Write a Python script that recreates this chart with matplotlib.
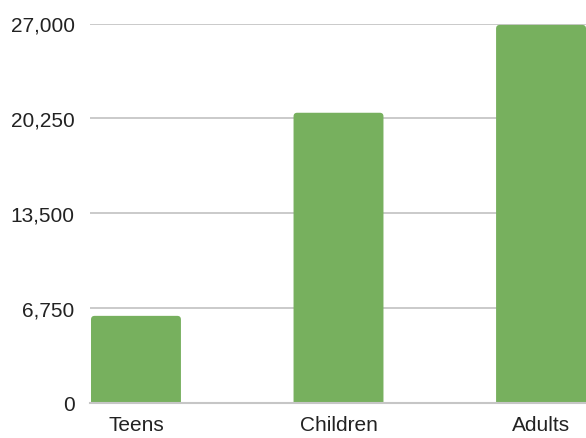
import matplotlib
matplotlib.use("Agg")
import matplotlib.pyplot as plt
from matplotlib.patches import FancyBboxPatch
from matplotlib.ticker import FuncFormatter

# data
categories = ["Teens", "Children", "Adults"]
values = [6200, 20650, 26900]
y_ticks = [0, 6750, 13500, 20250, 27000]

plt.rcParams['font.family'] = ['Liberation Sans', 'DejaVu Sans']

fig = plt.figure(figsize=(5.86, 4.39), dpi=100)
ax = fig.add_axes([90 / 586, 1 - 404 / 439, 1 - 90 / 586, (404 - 24.5) / 439])

bar_color = '#77b05e'
bar_w = 0.444
x = list(range(len(categories)))

ax.set_xlim(-0.227, 2.222)
ax.set_ylim(0, 27000)

# rounded top corners: aspect converts x radius into y units
px_x = 2.449 / 496          # x data per pixel
px_y = 27000 / 379.5         # y data per pixel
aspect = px_y / px_x
for xi, v in zip(x, values):
    patch = FancyBboxPatch((xi - bar_w / 2, -600), bar_w, v + 600,
                           boxstyle="round,pad=0,rounding_size=0.018",
                           mutation_aspect=aspect,
                           facecolor=bar_color, edgecolor='none', zorder=2)
    ax.add_patch(patch)

ax.set_yticks(y_ticks)
ax.yaxis.set_major_formatter(FuncFormatter(lambda v, p: f"{int(v):,}"))
ax.set_xticks(x)
ax.set_xticklabels(categories)

ax.grid(axis='y', color='#c6c6c6', linewidth=1.3, zorder=0)
ax.set_axisbelow(True)
for s in ['top', 'right', 'left']:
    ax.spines[s].set_visible(False)
ax.spines['bottom'].set_color('#c6c6c6')
ax.spines['bottom'].set_linewidth(1.5)
ax.spines['bottom'].set_zorder(3)

ax.tick_params(axis='y', length=0, pad=11, labelsize=15, labelcolor='#222222')
ax.tick_params(axis='x', length=0, pad=9, labelsize=15, labelcolor='#222222')

fig.savefig("out.png", dpi=100)
